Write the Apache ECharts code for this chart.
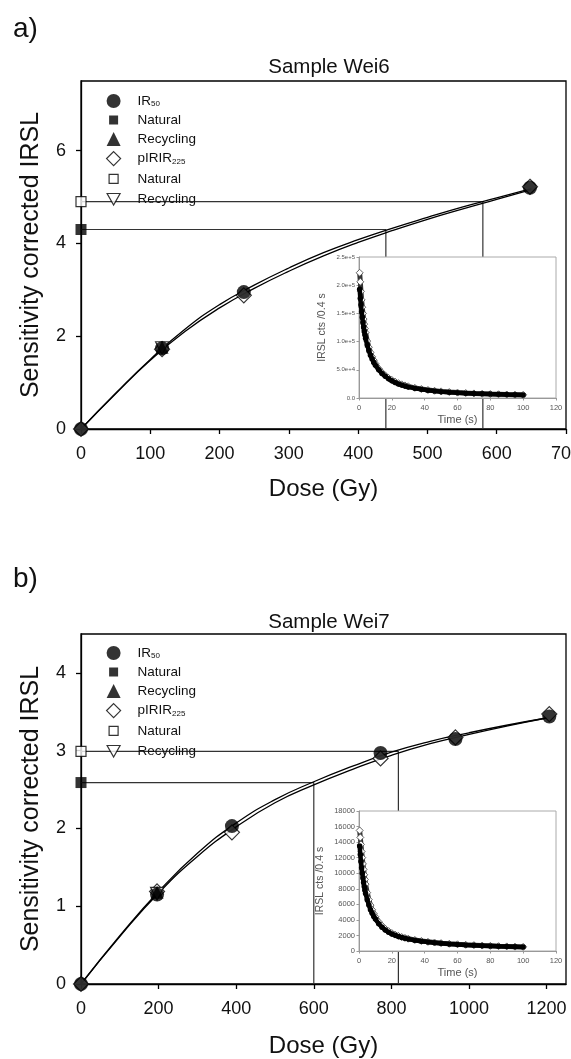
<!DOCTYPE html>
<html>
<head>
<meta charset="utf-8">
<title>IRSL dose response curves – Wei6 / Wei7</title>
<script src="https://cdn.jsdelivr.net/npm/echarts@6/dist/echarts.min.js"></script>
<style>
  html, body { margin: 0; padding: 0; background: #fff; }
  #chart { width: 571px; height: 1059px; }
</style>
</head>
<body>
<div id="chart"></div>
<script>
// ---------- Sample Wei6 ----------
const wei6RegDose = [0, 117, 235, 648];                 // Gy
const wei6IR50 = [0, 1.74, 2.95, 5.20];                 // Lx/Tx
const wei6PIRIR = [0, 1.72, 2.88, 5.22];
const wei6NaturalIR50 = 4.30;
const wei6NaturalPIRIR = 4.90;
const wei6RecycleDose = 117;
const wei6RecycleIR50 = 1.76;
const wei6RecyclePIRIR = 1.74;
const wei6DeIR50 = 440;
const wei6DePIRIR = 580;
const wei6CurveDose = [0, 50, 100, 150, 200, 250, 300, 350, 400, 450, 500, 550, 600, 650];
const wei6CurveIR50 = [0, 0.77, 1.50, 2.15, 2.68, 3.10, 3.47, 3.80, 4.08, 4.33, 4.56, 4.78, 4.98, 5.18];
const wei6CurvePIRIR = [0, 0.76, 1.48, 2.10, 2.61, 3.03, 3.40, 3.73, 4.02, 4.28, 4.52, 4.74, 4.95, 5.16];

// ---------- Sample Wei7 ----------
const wei7RegDose = [0, 196, 389, 772, 965, 1207];
const wei7IR50 = [0, 1.15, 2.03, 2.97, 3.15, 3.44];
const wei7PIRIR = [0, 1.19, 1.95, 2.90, 3.17, 3.47];
const wei7NaturalIR50 = 2.59;
const wei7NaturalPIRIR = 2.99;
const wei7RecycleDose = 196;
const wei7RecycleIR50 = 1.18;
const wei7RecyclePIRIR = 1.16;
const wei7DeIR50 = 600;
const wei7DePIRIR = 818;
const wei7CurveDose = [0, 100, 200, 300, 400, 500, 600, 700, 800, 900, 1000, 1100, 1200];
const wei7CurveIR50 = [0, 0.62, 1.19, 1.68, 2.07, 2.37, 2.60, 2.80, 2.98, 3.12, 3.23, 3.33, 3.42];
const wei7CurvePIRIR = [0, 0.61, 1.17, 1.64, 2.02, 2.33, 2.56, 2.76, 2.94, 3.09, 3.21, 3.32, 3.42];

// ---------- Natural signal decay (inset), counts per 0.4 s channel ----------
const decayTime = [0.4, 0.8, 1.2, 1.6, 2.0, 2.4, 2.8, 3.2, 3.6, 4.0,
  5, 6, 7, 8, 9, 10,
  12, 14, 16, 18, 20, 22, 24, 26, 28, 30,
  34, 38, 42, 46, 50,
  55, 60, 65, 70, 75, 80, 85, 90, 95, 100];
const wei6DecayIR50 = [193000, 177000, 165000, 153000, 143000, 134000, 126000, 119000, 112000, 106000,
  94000, 84000, 76000, 69000, 63000, 58000,
  50000, 43500, 38500, 34000, 30500, 27500, 25000, 23000, 21200, 19700,
  17200, 15300, 13700, 12400, 11300,
  10200, 9300, 8600, 7900, 7400, 6900, 6500, 6100, 5800, 5500];
const wei6DecayPIRIR = [222000, 206000, 189000, 174000, 161000, 150000, 140000, 131000, 123000, 116000,
  101000, 90000, 81000, 73000, 67000, 61000,
  52000, 45500, 40000, 35500, 32000, 29000, 26300, 24200, 22300, 20700,
  18000, 15900, 14200, 12800, 11700,
  10500, 9600, 8800, 8100, 7500, 7000, 6600, 6200, 5900, 5600];
const wei7DecayIR50 = [13500, 12400, 11500, 10700, 10000, 9400, 8800, 8300, 7800, 7400,
  6600, 5900, 5300, 4850, 4450, 4100,
  3500, 3050, 2700, 2420, 2200, 2020, 1870, 1740, 1630, 1530,
  1380, 1250, 1150, 1060, 990,
  910, 840, 780, 730, 690, 650, 610, 580, 550, 520];
const wei7DecayPIRIR = [15500, 14600, 13700, 12800, 12000, 11200, 10500, 9800, 9200, 8600,
  7500, 6600, 5900, 5300, 4800, 4400,
  3750, 3250, 2850, 2550, 2300, 2100, 1940, 1800, 1680, 1580,
  1420, 1290, 1180, 1090, 1010,
  930, 860, 800, 750, 700, 660, 620, 590, 560, 530];

// ---------- axis ticks ----------
const wei6DoseTicks = [0, 100, 200, 300, 400, 500, 600, 700];
const wei6SignalTicks = [0, 2, 4, 6];
const wei7DoseTicks = [0, 200, 400, 600, 800, 1000, 1200];
const wei7SignalTicks = [0, 1, 2, 3, 4];

const FONT = '"Liberation Sans", Arial, Helvetica, sans-serif';
const zip = (xs, ys) => xs.map((x, i) => [x, ys[i]]);
const plain = v => String(v);

// legend entries (series names -> rich label)
const legendLabels = {
  'IR50': '{g| }{n|IR}{s|50}',
  'Natural IR50': '{g| }{n|Natural}',
  'Recycling IR50': '{g| }{n|Recycling}',
  'pIRIR225': '{g| }{n|pIRIR}{s|225}',
  'Natural pIRIR225': '{g| }{n|Natural}',
  'Recycling pIRIR225': '{g| }{n|Recycling}'
};
const ICON_SQUARE = 'path://M0,0 M2.5,2.5 L11.5,2.5 L11.5,11.5 L2.5,11.5 Z M14,14';
const ICON_DOWN = 'path://M0,0 M0.5,1.5 L13.5,1.5 L7,13 Z M14,14';
const filled = { color: '#000', borderColor: '#000', borderWidth: 0 };
const open = { color: '#fff', borderColor: '#000', borderWidth: 1.2 };

function legendFor(top) {
  return {
    orient: 'vertical', left: 101, top: top,
    itemWidth: 14, itemHeight: 14, itemGap: 5,
    selectedMode: false,
    formatter: name => legendLabels[name],
    textStyle: {
      color: '#111', fontFamily: FONT,
      rich: {
        g: { width: 12 },
        n: { fontSize: 13.5, lineHeight: 14, fontFamily: FONT, color: '#111' },
        s: { fontSize: 8, lineHeight: 8, verticalAlign: 'bottom', fontFamily: FONT, color: '#111' }
      }
    },
    data: [
      { name: 'IR50', icon: 'circle', itemStyle: filled },
      { name: 'Natural IR50', icon: ICON_SQUARE, itemStyle: filled },
      { name: 'Recycling IR50', icon: 'triangle', itemStyle: filled },
      { name: 'pIRIR225', icon: 'diamond', itemStyle: open },
      { name: 'Natural pIRIR225', icon: ICON_SQUARE, itemStyle: open },
      { name: 'Recycling pIRIR225', icon: ICON_DOWN, itemStyle: open }
    ]
  };
}

function mainX(grid, max, interval, ticks, nameGap) {
  return {
    gridIndex: grid, type: 'value', min: 0, max: max, interval: interval,
    name: 'Dose (Gy)', nameLocation: 'middle', nameGap: nameGap,
    nameTextStyle: { fontSize: 24, color: '#111', fontFamily: FONT },
    axisLine: { lineStyle: { color: '#000', width: 1.3 } },
    axisTick: { length: 5, customValues: ticks, lineStyle: { color: '#000', width: 1.3 } },
    axisLabel: { customValues: ticks, formatter: plain, fontSize: 18, margin: 16, color: '#111', fontFamily: FONT },
    splitLine: { show: false }
  };
}
function mainY(grid, max, interval, ticks) {
  return {
    gridIndex: grid, type: 'value', min: 0, max: max, interval: interval,
    name: 'Sensitivity corrected IRSL', nameLocation: 'middle', nameGap: 37,
    nameTextStyle: { fontSize: 25, color: '#111', fontFamily: FONT },
    axisLine: { lineStyle: { color: '#000', width: 1.3 } },
    axisTick: { length: 5, customValues: ticks, lineStyle: { color: '#000', width: 1.3 } },
    axisLabel: { customValues: ticks, formatter: plain, fontSize: 18, margin: 15, color: '#111', fontFamily: FONT },
    splitLine: { show: false }
  };
}
function insetX(grid) {
  return {
    gridIndex: grid, type: 'value', min: 0, max: 120, interval: 20, z: 11,
    name: 'Time (s)', nameLocation: 'middle', nameGap: 16,
    nameTextStyle: { fontSize: 11, color: '#555', fontFamily: FONT },
    axisLine: { lineStyle: { color: '#999', width: 1 } },
    axisTick: { length: 2.5, lineStyle: { color: '#999' } },
    axisLabel: { fontSize: 7.5, margin: 6, color: '#555', fontFamily: FONT },
    splitLine: { show: false }
  };
}
function insetY(grid, max, interval, fmt, labelSize, nameGap) {
  return {
    gridIndex: grid, type: 'value', min: 0, max: max, interval: interval, z: 11,
    name: 'IRSL cts /0.4 s', nameLocation: 'middle', nameGap: nameGap,
    nameTextStyle: { fontSize: 10.5, color: '#555', fontFamily: FONT },
    axisLine: { lineStyle: { color: '#999', width: 1 } },
    axisTick: { length: 2.5, lineStyle: { color: '#999' } },
    axisLabel: { fontSize: labelSize, margin: 4, color: '#555', fontFamily: FONT, formatter: fmt },
    splitLine: { show: false }
  };
}
const sciLabel = v => {
  if (v === 0) return '0.0';
  const e = Math.floor(Math.log10(v));
  return (v / Math.pow(10, e)).toFixed(1) + 'e+' + e;
};

function panelSeries(g, inset, d) {
  const ax = { xAxisIndex: g, yAxisIndex: g };
  const ix = { xAxisIndex: inset, yAxisIndex: inset };
  const curve = (name, xs, ys) => Object.assign({
    type: 'line', name: name, data: zip(xs, ys), smooth: true, showSymbol: false,
    lineStyle: { color: '#000', width: 1.3 }, z: 2, silent: true
  }, ax);
  const deLine = (name, natural, de) => Object.assign({
    type: 'line', name: name, data: [[0, natural], [de, natural], [de, 0]],
    showSymbol: false, lineStyle: { color: '#333', width: 1.2 }, z: 1, silent: true
  }, ax);
  const pts = (name, data, symbol, size, style, z) => Object.assign({
    type: 'scatter', name: name, data: data, symbol: symbol, symbolSize: size,
    itemStyle: style, z: z, clip: false
  }, ax);
  const decay = (name, ys, symbol, size, style, lineColor, lineWidth, z) => Object.assign({
    type: 'line', name: name, data: zip(decayTime, ys), symbol: symbol, symbolSize: size,
    showSymbol: true, showAllSymbol: true, itemStyle: style,
    lineStyle: { color: lineColor, width: lineWidth }, z: z, silent: true
  }, ix);
  return [
    deLine('De pIRIR225', d.natP, d.deP),
    deLine('De IR50', d.natI, d.deI),
    curve('pIRIR225 fit', d.cDose, d.cP),
    curve('IR50 fit', d.cDose, d.cI),
    pts('pIRIR225', zip(d.dose, d.pP), 'diamond', 15, open, 3),
    pts('Recycling pIRIR225', [[d.recDose, d.recP]], 'path://M0,0 L10,0 L5,9 Z', 13, open, 3),
    pts('Natural pIRIR225', [[0, d.natP]], 'rect', 10, open, 3),
    pts('IR50', zip(d.dose, d.pI), 'circle', 14, filled, 4),
    pts('Recycling IR50', [[d.recDose, d.recI]], 'triangle', 13, filled, 4),
    pts('Natural IR50', [[0, d.natI]], 'rect', 11, filled, 4),
    decay('Decay pIRIR225', d.decP, 'diamond', 7, { color: '#fff', borderColor: '#555', borderWidth: 0.9 }, '#333', 5, 12),
    decay('Decay IR50', d.decI, 'circle', 5.5, { color: '#000' }, '#000', 4.5, 13)
  ];
}

const chart = echarts.init(document.getElementById('chart'), null, { renderer: 'canvas' });
chart.setOption({
  backgroundColor: '#fff',
  animation: false,
  textStyle: { fontFamily: FONT },
  title: [
    { text: 'Sample Wei6', left: 324, top: 52, textAlign: 'center',
      textStyle: { fontSize: 20.5, fontWeight: 'normal', color: '#111', fontFamily: FONT } },
    { text: 'Sample Wei7', left: 324, top: 607, textAlign: 'center',
      textStyle: { fontSize: 20.5, fontWeight: 'normal', color: '#111', fontFamily: FONT } }
  ],
  graphic: [
    { type: 'text', left: 13, top: 15, style: { text: 'a)', fontSize: 28, fill: '#111', fontFamily: FONT } },
    { type: 'text', left: 13, top: 565, style: { text: 'b)', fontSize: 28, fill: '#111', fontFamily: FONT } }
  ],
  legend: [legendFor(89), legendFor(641)],
  grid: [
    { left: 81, top: 81, width: 485, height: 348, show: true, borderColor: '#000', borderWidth: 1.3, backgroundColor: 'transparent', outerBoundsMode: 'none' },
    { left: 81, top: 634, width: 485, height: 350, show: true, borderColor: '#000', borderWidth: 1.3, backgroundColor: 'transparent', outerBoundsMode: 'none' },
    { left: 359, top: 257, width: 197, height: 141, show: true, backgroundColor: '#fff', borderColor: '#aaa', borderWidth: 1, z: 10, outerBoundsMode: 'none' },
    { left: 359, top: 811, width: 197, height: 140, show: true, backgroundColor: '#fff', borderColor: '#aaa', borderWidth: 1, z: 10, outerBoundsMode: 'none' }
  ],
  xAxis: [
    mainX(0, 700, 100, wei6DoseTicks, 48),
    mainX(1, 1250, 200, wei7DoseTicks, 50),
    insetX(2),
    insetX(3)
  ],
  yAxis: [
    mainY(0, 7.5, 2, wei6SignalTicks),
    mainY(1, 4.5, 1, wei7SignalTicks),
    insetY(2, 250000, 50000, sciLabel, 6, 31),
    insetY(3, 18000, 2000, plain, 7.5, 33)
  ],
  series: [].concat(
    panelSeries(0, 2, {
      dose: wei6RegDose, pI: wei6IR50, pP: wei6PIRIR,
      natI: wei6NaturalIR50, natP: wei6NaturalPIRIR,
      recDose: wei6RecycleDose, recI: wei6RecycleIR50, recP: wei6RecyclePIRIR,
      deI: wei6DeIR50, deP: wei6DePIRIR,
      cDose: wei6CurveDose, cI: wei6CurveIR50, cP: wei6CurvePIRIR,
      decI: wei6DecayIR50, decP: wei6DecayPIRIR
    }),
    panelSeries(1, 3, {
      dose: wei7RegDose, pI: wei7IR50, pP: wei7PIRIR,
      natI: wei7NaturalIR50, natP: wei7NaturalPIRIR,
      recDose: wei7RecycleDose, recI: wei7RecycleIR50, recP: wei7RecyclePIRIR,
      deI: wei7DeIR50, deP: wei7DePIRIR,
      cDose: wei7CurveDose, cI: wei7CurveIR50, cP: wei7CurvePIRIR,
      decI: wei7DecayIR50, decP: wei7DecayPIRIR
    })
  )
});
</script>
</body>
</html>
